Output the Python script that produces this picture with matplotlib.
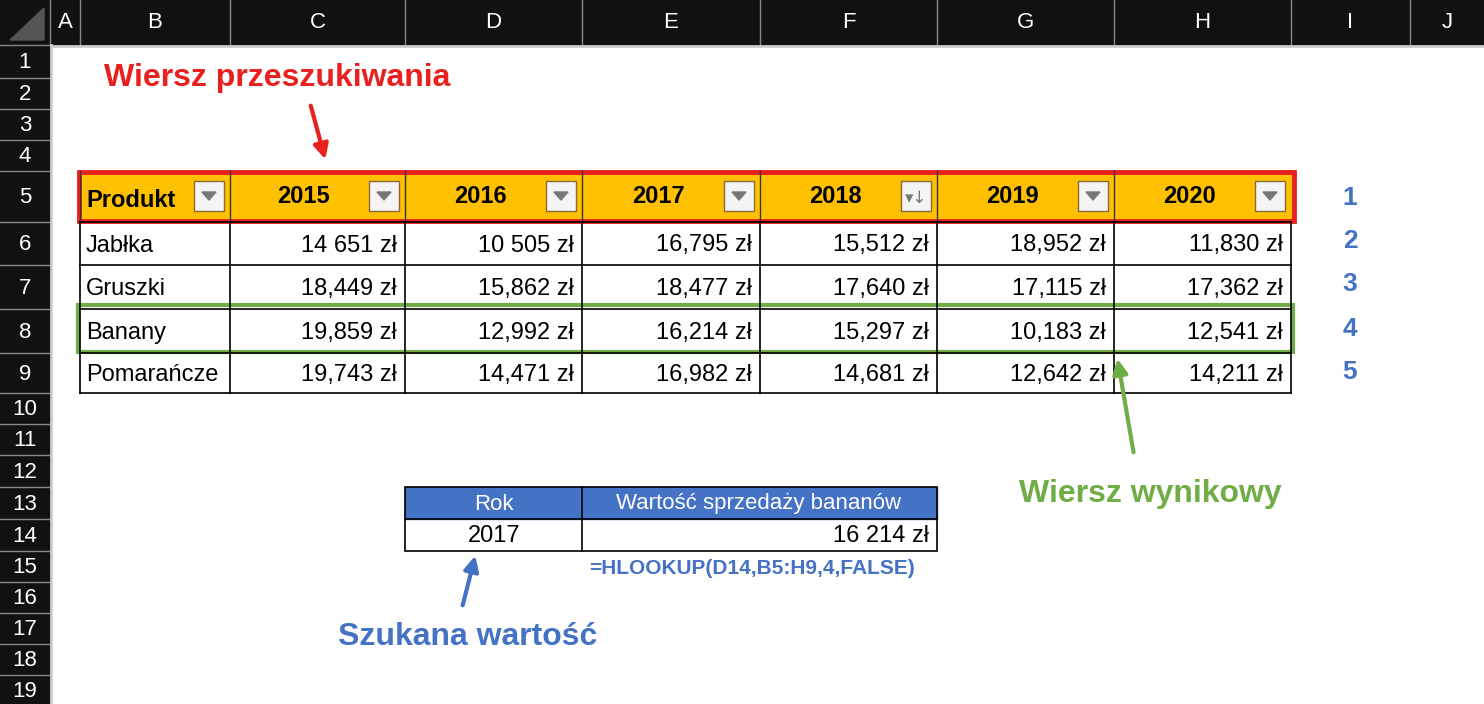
import matplotlib
matplotlib.use("Agg")
import matplotlib.pyplot as plt
from matplotlib.patches import Rectangle, Polygon

plt.rcParams['font.family'] = ['Liberation Sans', 'DejaVu Sans']

col_letters = ["A", "B", "C", "D", "E", "F", "G", "H", "I", "J"]
years = ["2015", "2016", "2017", "2018", "2019", "2020"]
products = ["Jabłka", "Gruszki", "Banany", "Pomarańcze"]
values = [
    ["14 651 zł", "10 505 zł", "16,795 zł", "15,512 zł", "18,952 zł", "11,830 zł"],
    ["18,449 zł", "15,862 zł", "18,477 zł", "17,640 zł", "17,115 zł", "17,362 zł"],
    ["19,859 zł", "12,992 zł", "16,214 zł", "15,297 zł", "10,183 zł", "12,541 zł"],
    ["19,743 zł", "14,471 zł", "16,982 zł", "14,681 zł", "12,642 zł", "14,211 zł"],
]
row_index_labels = ["1", "2", "3", "4", "5"]
lookup_headers = ["Rok", "Wartość sprzedaży bananów"]
lookup_values = ["2017", "16 214 zł"]
formula = "=HLOOKUP(D14,B5:H9,4,FALSE)"

W, H = 1484, 704
fig = plt.figure(figsize=(W / 100, H / 100), dpi=100)
ax = fig.add_axes([0, 0, 1, 1])
ax.set_xlim(0, W)
ax.set_ylim(H, 0)
ax.axis("off")

col_edges = [50, 80, 230, 405, 582, 760, 937, 1114, 1291, 1410, 1484]
row_edges = [45, 78, 109, 140, 171, 222, 265, 309, 353, 393, 424, 455, 487, 519, 551, 582, 613, 644, 675, 706]

# headers
ax.add_patch(Rectangle((0, 0), W, 45, color="#111111"))
ax.add_patch(Rectangle((0, 0), 50, H, color="#111111"))
ax.add_patch(Polygon([[10, 40], [44, 8], [44, 40]], color="#555555"))
for i, L in enumerate(col_letters):
    x0, x1 = col_edges[i], col_edges[i + 1]
    ax.plot([x0, x0], [0, 45], color="#888888", lw=1)
    ax.text((x0 + x1) / 2, 23, L, color="white", fontsize=16, ha="center", va="center")
for r in range(19):
    y0, y1 = row_edges[r], row_edges[r + 1]
    ax.plot([0, 50], [y0, y0], color="#888888", lw=1)
    ax.text(25, (y0 + y1) / 2 + 1, str(r + 1), color="white", fontsize=16, ha="center", va="center")
ax.plot([51, 51], [45, H], color="#cccccc", lw=2)
ax.plot([51, W], [46, 46], color="#cccccc", lw=2)

# header row 5
y0, y1 = row_edges[4], row_edges[5]
ax.add_patch(Rectangle((80, y0), 1211, y1 - y0, color="#FFC000"))
hdrs = ["Produkt"] + years
for i, t in enumerate(hdrs):
    x0, x1 = col_edges[1 + i], col_edges[2 + i]
    ax.plot([x0, x0], [y0, y1], color="#333333", lw=1)
    if i == 0:
        ax.text(x0 + 6, (y0 + y1) / 2 + 4, t, fontsize=17, fontweight="bold", ha="left", va="center")
    else:
        ax.text(x1 - 75, (y0 + y1) / 2, t, fontsize=17, fontweight="bold", ha="right", va="center")
    bx = x1 - 36
    ax.add_patch(Rectangle((bx, y0 + 10), 30, 30, facecolor="#f4f4f4", edgecolor="#8a6a3a", lw=1))
    if t == "2018":
        ax.text(bx + 15, y0 + 27, "▾↓", fontsize=12, color="#777777", ha="center", va="center", family="DejaVu Sans")
    else:
        ax.add_patch(Polygon([[bx + 8, y0 + 21], [bx + 22, y0 + 21], [bx + 15, y0 + 29]], color="#777777"))

# data rows
for r, (p, vals) in enumerate(zip(products, values)):
    y0, y1 = row_edges[5 + r], row_edges[6 + r]
    ax.text(86, (y0 + y1) / 2 + 2, p, fontsize=17, ha="left", va="center")
    for j, v in enumerate(vals):
        x1 = col_edges[3 + j]
        ax.text(x1 - 8, (y0 + y1) / 2 + 2, v, fontsize=17, ha="right", va="center")
for r in range(5, 10):
    ax.plot([80, 1291], [row_edges[r], row_edges[r]], color="black", lw=1.2)
for c in range(1, 9):
    ax.plot([col_edges[c], col_edges[c]], [222, 393], color="black", lw=1.2)

# red and green boxes
ax.add_patch(Rectangle((79, 172), 1215, 49, fill=False, edgecolor="#E8201E", lw=3.5))
ax.add_patch(Rectangle((78, 305), 1215, 47, fill=False, edgecolor="#70AD47", lw=3))

for i, t in enumerate(row_index_labels):
    yc = [198, 241, 284, 329, 372][i]
    ax.text(1350, yc, t, fontsize=19, fontweight="bold", color="#4472C4", ha="center", va="center")

# lookup table
ax.add_patch(Rectangle((405, 487), 532, 32, color="#4472C4"))
ax.text(494, 504, lookup_headers[0], color="white", fontsize=16, ha="center", va="center")
ax.text(759, 504, lookup_headers[1], color="white", fontsize=16, ha="center", va="center")
ax.text(494, 536, lookup_values[0], fontsize=17, ha="center", va="center")
ax.text(929, 536, lookup_values[1], fontsize=17, ha="right", va="center")
ax.add_patch(Rectangle((405, 487), 532, 64, fill=False, edgecolor="black", lw=1.2))
ax.plot([405, 937], [519, 519], color="black", lw=1.2)
ax.plot([582, 582], [487, 551], color="black", lw=1.2)
ax.text(589, 568, formula, fontsize=15, fontweight="bold", color="#4472C4", ha="left", va="center")

# annotations
ax.text(277, 78, "Wiersz przeszukiwania", fontsize=23, fontweight="bold", color="#E8201E", ha="center", va="center")
ax.annotate("", xy=(326, 162), xytext=(310, 103),
            arrowprops=dict(arrowstyle="-|>", color="#E8201E", lw=3, mutation_scale=22))
ax.text(1150, 494, "Wiersz wynikowy", fontsize=23, fontweight="bold", color="#70AD47", ha="center", va="center")
ax.annotate("", xy=(1117, 356), xytext=(1134, 455),
            arrowprops=dict(arrowstyle="-|>", color="#70AD47", lw=3, mutation_scale=22))
ax.text(468, 637, "Szukana wartość", fontsize=23, fontweight="bold", color="#4472C4", ha="center", va="center")
ax.annotate("", xy=(476, 553), xytext=(462, 608),
            arrowprops=dict(arrowstyle="-|>", color="#4472C4", lw=3, mutation_scale=22))

fig.savefig("out.png", dpi=100)
